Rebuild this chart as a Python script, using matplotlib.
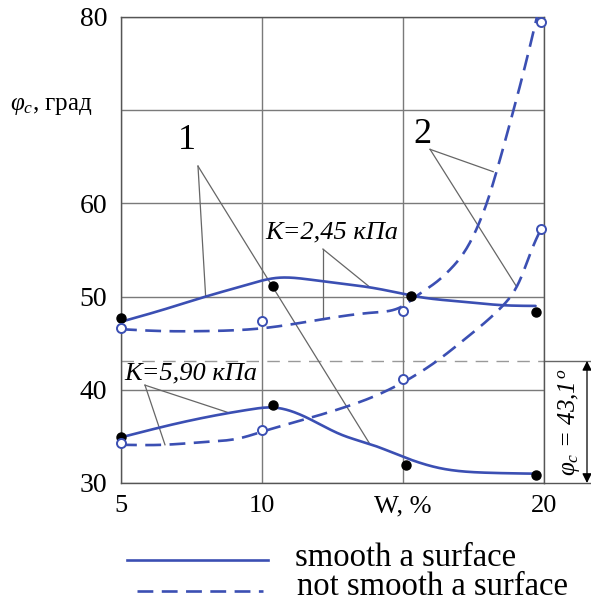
import numpy as np
import matplotlib
matplotlib.use("Agg")
import matplotlib.pyplot as plt
from matplotlib.lines import Line2D

plt.rcParams['font.family'] = ['Liberation Serif', 'DejaVu Serif']
plt.rcParams['mathtext.fontset'] = 'custom'
plt.rcParams['mathtext.rm'] = 'Liberation Serif'
plt.rcParams['mathtext.it'] = 'Liberation Serif:italic'

BLUE = '#3B4FB3'
GRAY = '#7a7a7a'

# ---- data ----
# K = 2.45 kPa, smooth surface (curve + measured points)
k1_smooth_x = [5, 6.5, 8, 9.5, 10.5, 11.5, 12.5, 13.8, 15, 15.5, 17.3, 18.4, 19.7]
k1_smooth_y = [47.3, 48.6, 50.0, 51.3, 52.0, 51.9, 51.5, 51.0, 50.3, 50.0, 49.4, 49.1, 49.0]
k1_smooth_pts_x = [5, 10.4, 15.3, 19.7]
k1_smooth_pts_y = [47.7, 51.1, 50.1, 48.4]

# K = 2.45 kPa, not smooth surface
k1_rough_x = [5, 6.5, 8, 10, 12.2, 14, 15, 15.5, 16.2, 16.7, 17.3, 17.7, 18.0, 18.4, 18.9, 19.35, 19.75, 20.0]
k1_rough_y = [46.5, 46.3, 46.3, 46.6, 47.6, 48.3, 49.0, 50.1, 51.6, 53.0, 55.4, 57.9, 60.3, 64.3, 69.8, 75.0, 80.0, 83.2]
k1_rough_pts_x = [5, 10, 15, 19.9]
k1_rough_pts_y = [46.6, 47.4, 48.5, 79.5]

# K = 5.90 kPa, smooth surface
k2_smooth_x = [5, 7, 8.8, 9.6, 10.4, 11.6, 12.8, 13.9, 15.1, 16.3, 18, 19.7]
k2_smooth_y = [34.9, 36.4, 37.5, 37.9, 38.1, 37.0, 35.2, 34.1, 32.7, 31.6, 31.1, 31.0]
k2_smooth_pts_x = [5, 10.4, 15.1, 19.7]
k2_smooth_pts_y = [34.9, 38.4, 31.9, 30.9]

# K = 5.90 kPa, not smooth surface
k2_rough_x = [5, 6.5, 8, 9.2, 10, 11.6, 12.8, 13.9, 15, 16.25, 17.3, 18.5, 19.15, 19.6, 19.9]
k2_rough_y = [34.1, 34.1, 34.4, 34.8, 35.5, 36.9, 38.0, 39.2, 40.8, 43.2, 45.7, 48.9, 51.8, 55.3, 57.3]
k2_rough_pts_x = [5, 10, 15, 19.9]
k2_rough_pts_y = [34.3, 35.7, 41.2, 57.3]

phi_c = 43.1
x_ticks = [5, 10, 15, 20]
x_ticklabels = ['5', '10', 'W, %', '20']
y_ticks = [30, 40, 50, 60, 70, 80]
y_ticklabels = ['30', '40', '50', '60', '', '80']


def spline(x, y, n=400):
    """Natural cubic spline through the read points (used only for drawing)."""
    x = np.asarray(x, float); y = np.asarray(y, float)
    m = len(x)
    h = np.diff(x)
    A = np.zeros((m, m)); b = np.zeros(m)
    A[0, 0] = A[-1, -1] = 1
    for i in range(1, m - 1):
        A[i, i - 1] = h[i - 1]
        A[i, i] = 2 * (h[i - 1] + h[i])
        A[i, i + 1] = h[i]
        b[i] = 6 * ((y[i + 1] - y[i]) / h[i] - (y[i] - y[i - 1]) / h[i - 1])
    M = np.linalg.solve(A, b)
    xs = np.linspace(x[0], x[-1], n)
    idx = np.clip(np.searchsorted(x, xs) - 1, 0, m - 2)
    x0, x1 = x[idx], x[idx + 1]
    hh = x1 - x0
    t0 = x1 - xs; t1 = xs - x0
    ys = (M[idx] * t0 ** 3 / (6 * hh) + M[idx + 1] * t1 ** 3 / (6 * hh)
          + (y[idx] / hh - M[idx] * hh / 6) * t0 + (y[idx + 1] / hh - M[idx + 1] * hh / 6) * t1)
    return xs, ys


fig = plt.figure(figsize=(5.91, 6.01), dpi=100)
ax = fig.add_axes([121 / 591, 1 - 483 / 601, 423 / 591, 466 / 601])
ax.set_xlim(5, 20)
ax.set_ylim(30, 80)

ax.set_xticks(x_ticks)
ax.set_xticklabels(x_ticklabels, fontsize=19)
ax.set_yticks(y_ticks)
ax.set_yticklabels(y_ticklabels, fontsize=20)
ax.tick_params(length=0, pad=9)
ax.tick_params(axis='y', pad=10)
ax.grid(True, color=GRAY, lw=1.0)
for s in ax.spines.values():
    s.set_color('#555555')
    s.set_linewidth(1.0)

# 43.1 reference line
ax.axhline(phi_c, color='#999999', lw=1.0, dashes=(9, 6), zorder=1)

lw = 1.9
dash = (6, 3.2)
for xs, ys in [(k1_smooth_x, k1_smooth_y), (k2_smooth_x, k2_smooth_y)]:
    sx, sy = spline(xs, ys)
    ax.plot(sx, sy, color=BLUE, lw=lw, zorder=3, solid_capstyle='round')
for xs, ys in [(k1_rough_x, k1_rough_y), (k2_rough_x, k2_rough_y)]:
    sx, sy = spline(xs, ys)
    ax.plot(sx, sy, color=BLUE, lw=lw, dashes=dash, zorder=3)

for px, py in [(k1_smooth_pts_x, k1_smooth_pts_y), (k2_smooth_pts_x, k2_smooth_pts_y)]:
    ax.plot(px, py, 'o', color='black', ms=6.5, zorder=5, clip_on=False)
for px, py in [(k1_rough_pts_x, k1_rough_pts_y), (k2_rough_pts_x, k2_rough_pts_y)]:
    ax.plot(px, py, 'o', mfc='white', mec=BLUE, mew=1.4, ms=6.5, zorder=5, clip_on=False)

# leader lines
lc = dict(color='#666666', lw=0.9, zorder=2)
ax.plot([7.73, 8.0], [64.0, 50.1], **lc)
ax.plot([7.73, 13.8], [64.0, 34.3], **lc)
ax.plot([15.96, 18.2], [65.8, 63.4], **lc)
ax.plot([15.96, 19.0], [65.8, 51.2], **lc)
ax.plot([12.16, 12.16], [55.1, 47.6], **lc)
ax.plot([12.16, 13.83], [55.1, 51.0], **lc)
ax.plot([5.85, 6.56], [40.5, 34.1], **lc)
ax.plot([5.85, 8.76], [40.5, 37.6], **lc)

ax.text(7.35, 65.0, '1', fontsize=26, ha='center', va='bottom')
ax.text(15.7, 65.6, '2', fontsize=26, ha='center', va='bottom')
ax.text(10.1, 56.9, 'K=2,45 кПа', fontsize=19, style='italic', ha='left', va='center')
ax.text(5.1, 41.8, 'K=5,90 кПа', fontsize=19, style='italic', ha='left', va='center')

# y-axis caption at 70 position
fig.text(10 / 591, 1 - 106 / 601, r'$\varphi_{c}$, град', fontsize=18, ha='left', va='center')

# right-side annotation
xr = 5 + (591 - 121) / 28.2
xa = 5 + (587 - 121) / 28.2
ax.plot([20, xr], [phi_c, phi_c], color='#666666', lw=1.0, clip_on=False)
ax.plot([20, xr], [30, 30], color='#555555', lw=1.0, clip_on=False)
ax.annotate('', xy=(xa, 30), xytext=(xa, phi_c), annotation_clip=False,
            arrowprops=dict(arrowstyle='<|-|>', color='black', lw=0.9,
                            shrinkA=0, shrinkB=0, mutation_scale=14))
ax.text(5 + (569 - 121) / 28.2, 36.5, r'$\varphi_c$ = 43,1$^{\,o}$', rotation=90, fontsize=18,
        style='italic', ha='center', va='center', clip_on=False)

# legend below the axes
fig.add_artist(Line2D([127 / 591, 268 / 591], [1 - 560 / 601] * 2, color=BLUE, lw=lw))
fig.add_artist(Line2D([137 / 591, 263 / 591], [1 - 591 / 601] * 2, color=BLUE, lw=lw, dashes=dash))
fig.text(295 / 591, 1 - 558 / 601, 'smooth a surface', fontsize=23.5, ha='left', va='center')
fig.text(297 / 591, 1 - 587 / 601, 'not smooth a surface', fontsize=23.5, ha='left', va='center')

fig.savefig('out.png', dpi=100)
